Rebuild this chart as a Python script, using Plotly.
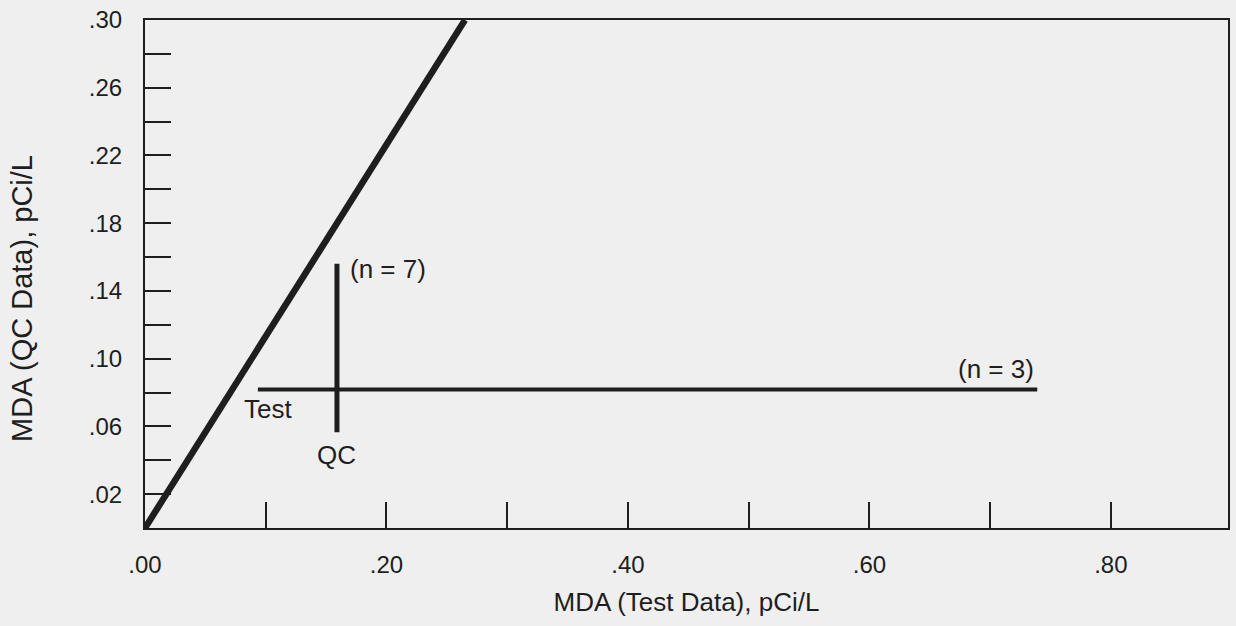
import plotly.graph_objects as go

# Data
diag_x = [0.0, 0.265]
diag_y = [0.0, 0.30]
qc_x = [0.159, 0.159]
qc_y = [0.0565, 0.156]
test_x = [0.0935, 0.739]
test_y = [0.0818, 0.0818]

x_tickvals = [0.0, 0.1, 0.2, 0.3, 0.4, 0.5, 0.6, 0.7, 0.8]
x_ticktext = [".00", "", ".20", "", ".40", "", ".60", "", ".80"]
y_tickvals = [0.02, 0.04, 0.06, 0.08, 0.10, 0.12, 0.14, 0.16, 0.18, 0.20,
              0.22, 0.24, 0.26, 0.28, 0.30]
y_ticktext = [".02", "", ".06", "", ".10", "", ".14", "", ".18", "",
              ".22", "", ".26", "", ".30"]

ink = "#1e1e1e"
bg = "#efefef"
font_family = "Liberation Sans, Arial, sans-serif"

fig = go.Figure()
fig.add_trace(go.Scatter(x=diag_x, y=diag_y, mode="lines",
                         line=dict(color=ink, width=6.5), showlegend=False))
fig.add_trace(go.Scatter(x=test_x, y=test_y, mode="lines",
                         line=dict(color=ink, width=4), showlegend=False))
fig.add_trace(go.Scatter(x=qc_x, y=qc_y, mode="lines",
                         line=dict(color=ink, width=5), showlegend=False))

ann_font = dict(family=font_family, size=26, color=ink)
fig.add_annotation(x=0.1017, y=0.070, text="Test", showarrow=False, font=ann_font)
fig.add_annotation(x=0.159, y=0.043, text="QC", showarrow=False, font=ann_font)
fig.add_annotation(x=0.168, y=0.153, text="(n = 7)", showarrow=False,
                   xanchor="left", font=ann_font)
fig.add_annotation(x=0.672, y=0.094, text="(n = 3)", showarrow=False,
                   xanchor="left", font=ann_font)

# y-axis title (placed as in the reference, slightly below centre)
fig.add_annotation(x=0, xref="paper", y=0.451, yref="paper", xshift=-123,
                   text="MDA (QC Data), pCi/L", textangle=-90, showarrow=False,
                   xanchor="center", yanchor="middle",
                   font=dict(family=font_family, size=29, color=ink))

fig.update_xaxes(range=[0, 0.897], tickvals=x_tickvals, ticktext=x_ticktext,
                 ticks="inside", ticklen=26, tickwidth=2, tickcolor=ink,
                 ticklabelstandoff=14,
                 showline=True, linecolor=ink, linewidth=2, mirror=True,
                 showgrid=False, zeroline=False,
                 tickfont=dict(family=font_family, size=24, color=ink),
                 title=dict(text="MDA (Test Data), pCi/L", standoff=16,
                            font=dict(family=font_family, size=26, color=ink)))
fig.update_yaxes(range=[0, 0.30], tickvals=y_tickvals, ticktext=y_ticktext,
                 ticks="inside", ticklen=26, tickwidth=2, tickcolor=ink,
                 ticklabelstandoff=16,
                 showline=True, linecolor=ink, linewidth=2, mirror=True,
                 showgrid=False, zeroline=False,
                 tickfont=dict(family=font_family, size=24, color=ink))

fig.update_layout(width=1236, height=626,
                  margin=dict(l=145, r=6, t=18, b=98),
                  paper_bgcolor=bg, plot_bgcolor=bg,
                  showlegend=False)

fig.write_html("out.html", config={"displayModeBar": False},
               post_script="document.body.style.margin='0';"
                           "document.body.style.background='#efefef';")
